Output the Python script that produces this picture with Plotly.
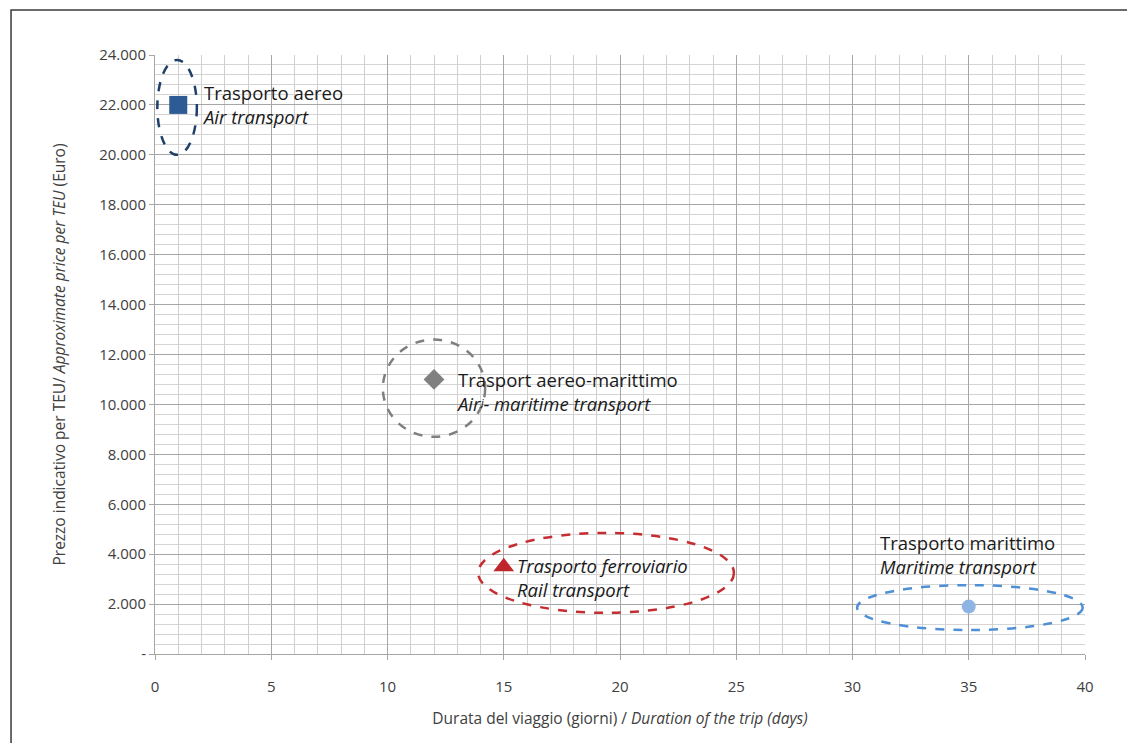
import plotly.graph_objects as go

# Data
modes = ["Trasporto aereo", "Trasport aereo-marittimo", "Trasporto ferroviario", "Trasporto marittimo"]
days = [1, 12, 15, 35]
price = [22000, 11000, 3500, 1900]
marker_symbols = ["square", "diamond", "triangle-up", "circle"]
marker_colors = ["#2E5B94", "#808080", "#C0272D", "#8DB4E2"]
marker_sizes = [18, 16, 18, 14]

labels = [
    "Trasporto aereo<br><i>Air transport</i>",
    "Trasport aereo-marittimo<br><i>Airʲ- maritime transport</i>",
    "<i>Trasporto ferroviario</i><br><i>Rail transport</i>",
    "Trasporto marittimo<br><i>Maritime transport</i>",
]
label_x = [1.95, 12.88, 15.48, 31.1]
label_y = [22020, 10520, 3080, 4000]

# ellipse bounds: x0, x1, y0, y1
ell_x0 = [0.1, 9.8, 13.9, 30.2]
ell_x1 = [1.8, 14.2, 24.9, 39.9]
ell_y0 = [20000, 8700, 1650, 960]
ell_y1 = [23800, 12600, 4850, 2760]
ell_colors = ["#1F3F6B", "#7F7F7F", "#C62D30", "#4F8FD6"]

y_tickvals = list(range(0, 24001, 2000))
y_ticktext = ["-"] + [f"{v//1000}.000" for v in y_tickvals[1:]]

fig = go.Figure()
for i in range(len(days)):
    fig.add_trace(go.Scatter(
        x=[days[i]], y=[price[i]], mode="markers", name=modes[i],
        marker=dict(symbol=marker_symbols[i], color=marker_colors[i], size=marker_sizes[i],
                    line=dict(width=0)),
        showlegend=False, hoverinfo="skip"))
    fig.add_shape(type="circle", xref="x", yref="y",
                  x0=ell_x0[i], x1=ell_x1[i], y0=ell_y0[i], y1=ell_y1[i],
                  line=dict(color=ell_colors[i], width=2.5, dash="dash"))
    fig.add_annotation(x=label_x[i], y=label_y[i], xref="x", yref="y", text=labels[i],
                       showarrow=False, xanchor="left", yanchor="middle", align="left",
                       font=dict(family="Open Sans", size=18.5, color="#1a1a1a"))

# outer frame
fig.add_shape(type="rect", xref="paper", yref="paper",
              x0=-0.1548, x1=1.0473, y0=-0.2, y1=1.0751,
              line=dict(color="#3a3a3a", width=1.5), layer="below")

fig.update_layout(
    width=1119, height=735,
    margin=dict(l=147, r=42, t=47, b=89),
    paper_bgcolor="white", plot_bgcolor="white",
    font=dict(family="Open Sans", color="#404040"),
    xaxis=dict(range=[0, 40], tickvals=[0, 5, 10, 15, 20, 25, 30, 35, 40],
               showgrid=True, gridcolor="#A6A6A6", gridwidth=1,
               minor=dict(dtick=1, showgrid=True, gridcolor="#CFCFCF", gridwidth=1),
               ticks="outside", ticklen=5, tickcolor="#A6A6A6",
               ticklabelstandoff=14,
               showline=True, linecolor="#A6A6A6", zeroline=False,
               tickfont=dict(size=15, color="#404040"),
               title=dict(text="Durata del viaggio (giorni) / <i>Duration of the trip (days)</i>",
                          font=dict(size=15.5, color="#404040"), standoff=18)),
    yaxis=dict(range=[0, 24000], tickvals=y_tickvals, ticktext=y_ticktext,
               showgrid=True, gridcolor="#A6A6A6", gridwidth=1,
               minor=dict(dtick=400, showgrid=True, gridcolor="#D4D4D4", gridwidth=1),
               ticks="outside", ticklen=5, tickcolor="#A6A6A6",
               showline=True, linecolor="#A6A6A6", zeroline=False,
               tickfont=dict(size=15, color="#404040"),
               title=dict(text="Prezzo indicativo per TEU/ <i>Approximate price per TEU</i> (Euro)",
                          font=dict(size=15.5, color="#404040"), standoff=29)),
)

fig.write_html("out.html")
